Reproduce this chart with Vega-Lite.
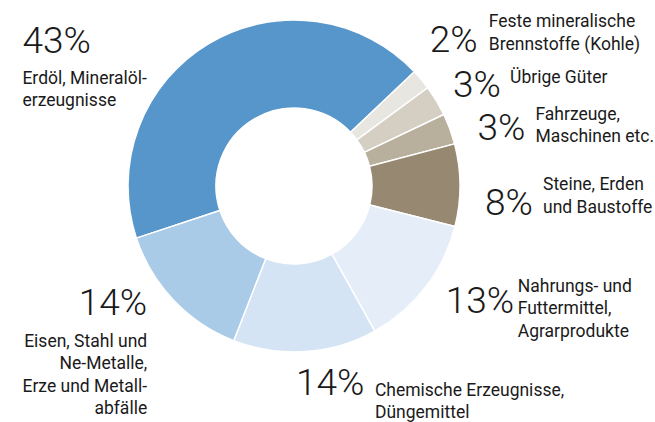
{
  "$schema": "https://vega.github.io/schema/vega-lite/v6.json",
  "width": 588,
  "height": 372,
  "autosize": {"type": "none"},
  "padding": {"left": 0, "top": 0, "right": 67, "bottom": 50},
  "background": "white",
  "config": {
    "view": {"stroke": null},
    "text": {"font": "Roboto, sans-serif", "fill": "#1a1a1a"}
  },
  "data": {
    "values": [
      {"id": "Erdoel", "order": 1, "value": 43, "pct": "43%", "label": "Erdöl, Mineralöl-\nerzeugnisse"},
      {"id": "Kohle", "order": 2, "value": 2, "pct": "2%", "label": "Feste mineralische\nBrennstoffe (Kohle)"},
      {"id": "Uebrige", "order": 3, "value": 3, "pct": "3%", "label": "Übrige Güter"},
      {"id": "Fahrzeuge", "order": 4, "value": 3, "pct": "3%", "label": "Fahrzeuge,\nMaschinen etc."},
      {"id": "Steine", "order": 5, "value": 8, "pct": "8%", "label": "Steine, Erden\nund Baustoffe"},
      {"id": "Nahrung", "order": 6, "value": 13, "pct": "13%", "label": "Nahrungs- und\nFuttermittel,\nAgrarprodukte"},
      {"id": "Chemie", "order": 7, "value": 14, "pct": "14%", "label": "Chemische Erzeugnisse,\nDüngemittel"},
      {"id": "Eisen", "order": 8, "value": 14, "pct": "14%", "label": "Eisen, Stahl und\nNe-Metalle,\nErze und Metall-\nabfälle"}
    ]
  },
  "encoding": {
    "theta": {"field": "value", "type": "quantitative", "stack": true, "scale": {"range": [-1.8902, 4.393]}},
    "order": {"field": "order", "type": "quantitative"}
  },
  "layer": [
    {
      "mark": {"type": "arc", "outerRadius": 166, "innerRadius": 78, "stroke": "white", "strokeWidth": 1.5},
      "encoding": {
        "color": {
          "field": "id", "type": "nominal", "legend": null,
          "scale": {
            "domain": ["Erdoel", "Kohle", "Uebrige", "Fahrzeuge", "Steine", "Nahrung", "Chemie", "Eisen"],
            "range": ["#5796CA", "#E8E6E0", "#D5CFC3", "#B8AF9C", "#978971", "#E5EDF8", "#D4E4F4", "#A9CBE8"]
          }
        }
      }
    },
    {"mark": {"type": "text", "radius": 190, "dx": -174, "dy": 30, "align": "left", "baseline": "alphabetic", "fontSize": 37, "fontWeight": 300},
     "encoding": {"text": {"condition": {"test": "datum.id === 'Erdoel'", "field": "pct"}, "value": ""}}},
    {"mark": {"type": "text", "radius": 190, "dx": -174, "dy": 61, "align": "left", "baseline": "alphabetic", "fontSize": 17.5, "lineBreak": "\n", "lineHeight": 22.5},
     "encoding": {"text": {"condition": {"test": "datum.id === 'Erdoel'", "field": "label"}, "value": ""}}},
    {"mark": {"type": "text", "radius": 190, "dx": -10, "dy": -12, "align": "left", "baseline": "alphabetic", "fontSize": 37, "fontWeight": 300},
     "encoding": {"text": {"condition": {"test": "datum.id === 'Kohle'", "field": "pct"}, "value": ""}}},
    {"mark": {"type": "text", "radius": 190, "dx": 49, "dy": -37, "align": "left", "baseline": "alphabetic", "fontSize": 17.5, "lineBreak": "\n", "lineHeight": 22.5},
     "encoding": {"text": {"condition": {"test": "datum.id === 'Kohle'", "field": "label"}, "value": ""}}},
    {"mark": {"type": "text", "radius": 190, "dx": -4, "dy": 9, "align": "left", "baseline": "alphabetic", "fontSize": 37, "fontWeight": 300},
     "encoding": {"text": {"condition": {"test": "datum.id === 'Uebrige'", "field": "pct"}, "value": ""}}},
    {"mark": {"type": "text", "radius": 190, "dx": 53, "dy": -5, "align": "left", "baseline": "alphabetic", "fontSize": 17.5, "lineBreak": "\n", "lineHeight": 22.5},
     "encoding": {"text": {"condition": {"test": "datum.id === 'Uebrige'", "field": "label"}, "value": ""}}},
    {"mark": {"type": "text", "radius": 190, "dx": 5, "dy": 19, "align": "left", "baseline": "alphabetic", "fontSize": 37, "fontWeight": 300},
     "encoding": {"text": {"condition": {"test": "datum.id === 'Fahrzeuge'", "field": "pct"}, "value": ""}}},
    {"mark": {"type": "text", "radius": 190, "dx": 63, "dy": -1, "align": "left", "baseline": "alphabetic", "fontSize": 17.5, "lineBreak": "\n", "lineHeight": 22.5},
     "encoding": {"text": {"condition": {"test": "datum.id === 'Fahrzeuge'", "field": "label"}, "value": ""}}},
    {"mark": {"type": "text", "radius": 190, "dx": 1, "dy": 30, "align": "left", "baseline": "alphabetic", "fontSize": 37, "fontWeight": 300},
     "encoding": {"text": {"condition": {"test": "datum.id === 'Steine'", "field": "pct"}, "value": ""}}},
    {"mark": {"type": "text", "radius": 190, "dx": 59, "dy": 5, "align": "left", "baseline": "alphabetic", "fontSize": 17.5, "lineBreak": "\n", "lineHeight": 22.5},
     "encoding": {"text": {"condition": {"test": "datum.id === 'Steine'", "field": "label"}, "value": ""}}},
    {"mark": {"type": "text", "radius": 190, "dx": 1, "dy": 11, "align": "left", "baseline": "alphabetic", "fontSize": 37, "fontWeight": 300},
     "encoding": {"text": {"condition": {"test": "datum.id === 'Nahrung'", "field": "pct"}, "value": ""}}},
    {"mark": {"type": "text", "radius": 190, "dx": 73, "dy": -10, "align": "left", "baseline": "alphabetic", "fontSize": 17.5, "lineBreak": "\n", "lineHeight": 22.5},
     "encoding": {"text": {"condition": {"test": "datum.id === 'Nahrung'", "field": "label"}, "value": ""}}},
    {"mark": {"type": "text", "radius": 190, "dx": -11, "dy": 19, "align": "left", "baseline": "alphabetic", "fontSize": 37, "fontWeight": 300},
     "encoding": {"text": {"condition": {"test": "datum.id === 'Chemie'", "field": "pct"}, "value": ""}}},
    {"mark": {"type": "text", "radius": 190, "dx": 68, "dy": 20, "align": "left", "baseline": "alphabetic", "fontSize": 17.5, "lineBreak": "\n", "lineHeight": 22.5},
     "encoding": {"text": {"condition": {"test": "datum.id === 'Chemie'", "field": "label"}, "value": ""}}},
    {"mark": {"type": "text", "radius": 190, "dx": -9, "dy": -2, "align": "right", "baseline": "alphabetic", "fontSize": 37, "fontWeight": 300},
     "encoding": {"text": {"condition": {"test": "datum.id === 'Eisen'", "field": "pct"}, "value": ""}}},
    {"mark": {"type": "text", "radius": 190, "dx": -9, "dy": 30, "align": "right", "baseline": "alphabetic", "fontSize": 17.5, "lineBreak": "\n", "lineHeight": 22.5},
     "encoding": {"text": {"condition": {"test": "datum.id === 'Eisen'", "field": "label"}, "value": ""}}}
  ]
}
